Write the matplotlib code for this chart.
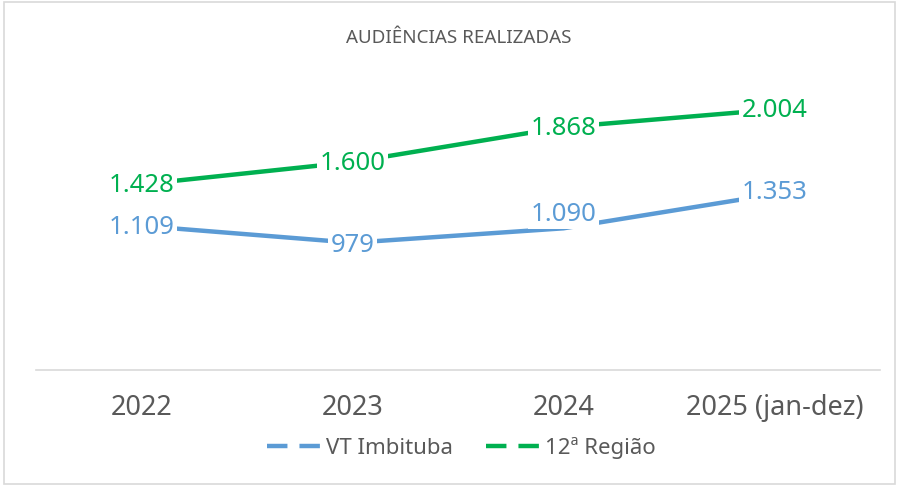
import matplotlib
matplotlib.use("Agg")
import matplotlib.pyplot as plt
from matplotlib.lines import Line2D
from matplotlib.patches import Rectangle

categories = ["2022", "2023", "2024", "2025 (jan-dez)"]
vt_imbituba = [1109, 979, 1090, 1353]
regiao_12 = [1428, 1600, 1868, 2004]
vt_labels = ["1.109", "979", "1.090", "1.353"]
reg_labels = ["1.428", "1.600", "1.868", "2.004"]
series_names = ["VT Imbituba", "12ª Região"]
title = "AUDIÊNCIAS REALIZADAS"

blue = "#5B9BD5"
green = "#00B050"
gray = "#595959"

plt.rcParams['font.family'] = ['Noto Sans', 'DejaVu Sans']

fig = plt.figure(figsize=(8.99, 4.86), dpi=100)
ax = fig.add_axes([36/899, 116/486, (880-36)/899, (370-45)/486])

x = list(range(len(categories)))
ax.plot(x, vt_imbituba, color=blue, lw=3.2, solid_capstyle='butt', zorder=2)
ax.plot(x, regiao_12, color=green, lw=3.2, solid_capstyle='butt', zorder=2)

bbox = dict(boxstyle="square,pad=0.1", fc="white", ec="none")
for i, (v, lab) in enumerate(zip(regiao_12, reg_labels)):
    ax.annotate(lab, (i, v), xytext=(0, -1), textcoords="offset points",
                ha="center", va="center", fontsize=18.5, color=green,
                bbox=bbox, zorder=3)
offsets = [0, -1, 11, 2]
for i, (v, lab) in enumerate(zip(vt_imbituba, vt_labels)):
    ax.annotate(lab, (i, v), xytext=(0, offsets[i] - 1), textcoords="offset points",
                ha="center", va="center", fontsize=18.5, color=blue,
                bbox=bbox, zorder=3)

ax.set_xlim(-0.5, len(categories) - 0.5)
ax.set_ylim(0, 2500)
ax.set_xticks(x)
ax.set_xticklabels(categories, fontsize=19.5, color=gray)
ax.tick_params(axis='x', length=0, pad=17)
ax.set_yticks([])
for s in ["top", "left", "right"]:
    ax.spines[s].set_visible(False)
ax.spines["bottom"].set_color("#D9D9D9")
ax.spines["bottom"].set_linewidth(1.2)

fig.text(459/899, 1 - 38/486, title, ha="center", va="center", fontsize=13.5,
         color=gray)

handles = [Line2D([0], [0], color=blue, lw=3.2, dashes=(4.6, 2.7)),
           Line2D([0], [0], color=green, lw=3.2, dashes=(4.6, 2.7))]
fig.legend(handles, series_names, loc="center", bbox_to_anchor=(461/899, 1 - 448/486),
           ncol=2, frameon=False, fontsize=16, labelcolor=gray,
           handlelength=2.5, handletextpad=0.15, columnspacing=1.5)

fig.patches.append(Rectangle((0.004, 0.004), 0.992, 0.992, transform=fig.transFigure,
                             fill=False, ec="#D9D9D9", lw=1.2))

fig.savefig("out.png", dpi=100)
